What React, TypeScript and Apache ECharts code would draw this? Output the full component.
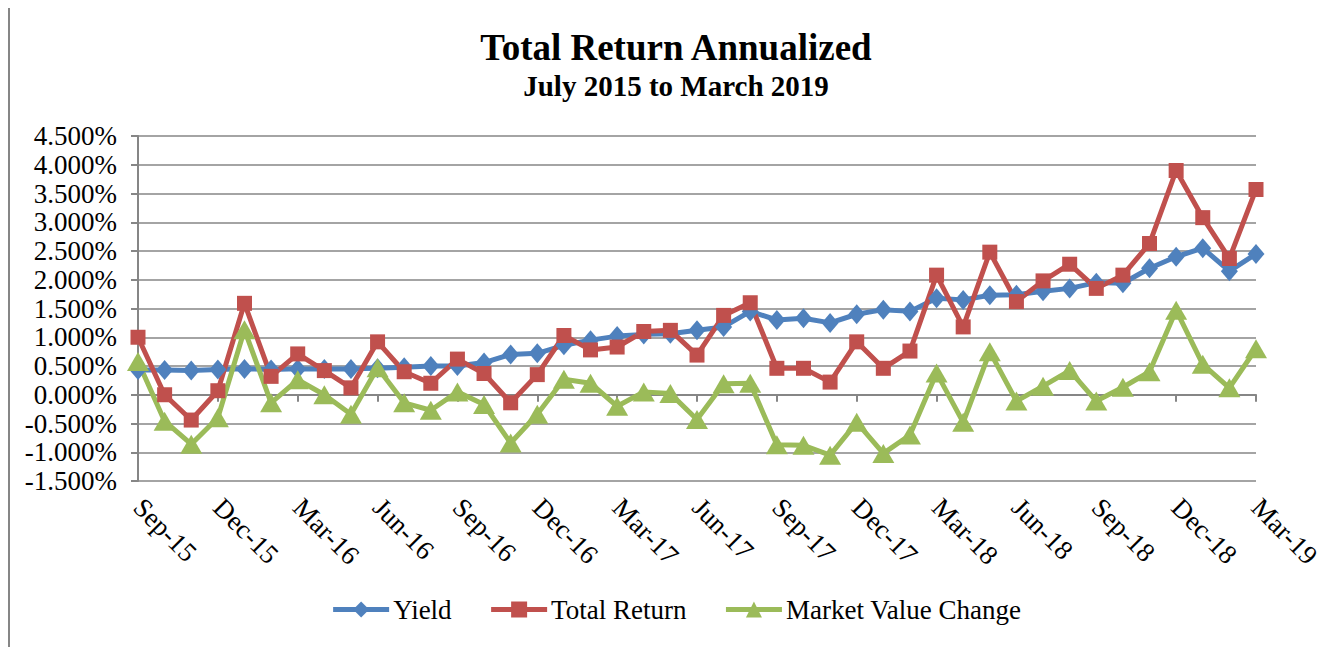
import React, { useEffect, useRef } from "react";
import * as echarts from "echarts";

const categories = [
  "Sep-15", "Oct-15", "Nov-15", "Dec-15", "Jan-16", "Feb-16", "Mar-16", "Apr-16", "May-16",
  "Jun-16", "Jul-16", "Aug-16", "Sep-16", "Oct-16", "Nov-16", "Dec-16", "Jan-17", "Feb-17",
  "Mar-17", "Apr-17", "May-17", "Jun-17", "Jul-17", "Aug-17", "Sep-17", "Oct-17", "Nov-17",
  "Dec-17", "Jan-18", "Feb-18", "Mar-18", "Apr-18", "May-18", "Jun-18", "Jul-18", "Aug-18",
  "Sep-18", "Oct-18", "Nov-18", "Dec-18", "Jan-19", "Feb-19", "Mar-19",
];

const yieldValues = [
  0.43, 0.43, 0.42, 0.44, 0.45, 0.44, 0.45, 0.45, 0.45, 0.46, 0.48, 0.5, 0.5, 0.56, 0.7,
  0.72, 0.86, 0.95, 1.02, 1.05, 1.06, 1.12, 1.18, 1.45, 1.3, 1.33, 1.25, 1.4, 1.48, 1.45,
  1.68, 1.65, 1.73, 1.74, 1.8, 1.85, 1.95, 1.94, 2.2, 2.4, 2.55, 2.15, 2.45,
];

const totalReturnValues = [
  1.0, 0.0, -0.44, 0.07, 1.59, 0.32, 0.71, 0.42, 0.12, 0.92, 0.4, 0.2, 0.62, 0.37, -0.14,
  0.35, 1.03, 0.78, 0.83, 1.1, 1.12, 0.69, 1.38, 1.6, 0.46, 0.46, 0.22, 0.92, 0.46, 0.76,
  2.08, 1.18, 2.48, 1.62, 1.98, 2.27, 1.85, 2.08, 2.63, 3.9, 3.08, 2.37, 3.57,
];

const marketValueChangeValues = [
  0.58, -0.46, -0.86, -0.4, 1.13, -0.14, 0.26, 0.0, -0.34, 0.47, -0.14, -0.27, 0.05, -0.17,
  -0.84, -0.34, 0.27, 0.2, -0.2, 0.05, 0.02, -0.43, 0.19, 0.2, -0.87, -0.88, -1.05, -0.48,
  -1.02, -0.7, 0.38, -0.48, 0.75, -0.11, 0.15, 0.42, -0.11, 0.13, 0.4, 1.47, 0.53, 0.12, 0.8,
];

const seriesNames = ["Yield", "Total Return", "Market Value Change"];
const seriesColors = ["#4F81BD", "#C0504D", "#9BBB59"];
const FONT = "'Liberation Serif', 'Times New Roman', serif";
const GRAY = "#868686";

export default function App() {
  const ref = useRef<HTMLDivElement>(null);

  useEffect(() => {
    if (!ref.current) return;
    const chart = echarts.init(ref.current, null, { renderer: "svg" });
    const mk = (name: string, data: number[], color: string, symbol: string, size: number[]) => ({
      name,
      type: "line",
      data,
      symbol,
      symbolSize: size,
      showAllSymbol: true,
      lineStyle: { color, width: 5 },
      itemStyle: { color },
      emphasis: { disabled: true },
    });
    chart.setOption({
      animation: false,
      backgroundColor: "#ffffff",
      title: {
        text: "Total Return Annualized",
        subtext: "July 2015 to March 2019",
        left: "center",
        top: 16,
        itemGap: 3,
        textStyle: { fontFamily: FONT, fontSize: 37, fontWeight: "bold", color: "#000", lineHeight: 40 },
        subtextStyle: { fontFamily: FONT, fontSize: 29, fontWeight: "bold", color: "#000", lineHeight: 32 },
      },
      legend: {
        bottom: 19,
        left: "center",
        itemWidth: 56,
        itemHeight: 20,
        itemGap: 37,
        lineStyle: { width: 5 },
        textStyle: { fontFamily: FONT, fontSize: 27, color: "#000", padding: [0, 0, 0, -1] },
        data: seriesNames,
      },
      grid: { left: 130, right: 88, top: 130, bottom: 166, containLabel: false },
      xAxis: {
        type: "category",
        boundaryGap: false,
        data: categories,
        axisLine: { lineStyle: { color: GRAY, width: 2 } },
        axisTick: { show: true, interval: 2, length: 7, lineStyle: { color: GRAY, width: 2 } },
        axisLabel: { interval: 2, rotate: -45, margin: 22, fontFamily: FONT, fontSize: 27, color: "#000" },
        splitLine: { show: false },
      },
      yAxis: {
        type: "value",
        min: -1.5,
        max: 4.5,
        interval: 0.5,
        axisLine: { show: true, lineStyle: { color: GRAY, width: 2 } },
        axisTick: { show: true, length: 7, lineStyle: { color: GRAY, width: 2 } },
        axisLabel: {
          margin: 21,
          fontFamily: FONT,
          fontSize: 27,
          color: "#000",
          formatter: (v: number) => v.toFixed(3) + "%",
        },
        splitLine: { show: true, lineStyle: { color: GRAY, width: 1.5 } },
      },
      graphic: [
        { type: "line", shape: { x1: 1, y1: 1, x2: 1400, y2: 1 }, style: { stroke: GRAY, lineWidth: 2 } },
        { type: "line", shape: { x1: 1, y1: 1, x2: 1, y2: 700 }, style: { stroke: GRAY, lineWidth: 2 } },
      ],
      series: [
        mk(seriesNames[0], yieldValues, seriesColors[0], "diamond", [17, 20]),
        mk(seriesNames[1], totalReturnValues, seriesColors[1], "rect", [15, 15]),
        mk(seriesNames[2], marketValueChangeValues, seriesColors[2], "triangle", [22, 19]),
      ],
    });
    return () => chart.dispose();
  }, []);

  return <div ref={ref} style={{ width: 1336, height: 641, marginTop: -2 }} />;
}
